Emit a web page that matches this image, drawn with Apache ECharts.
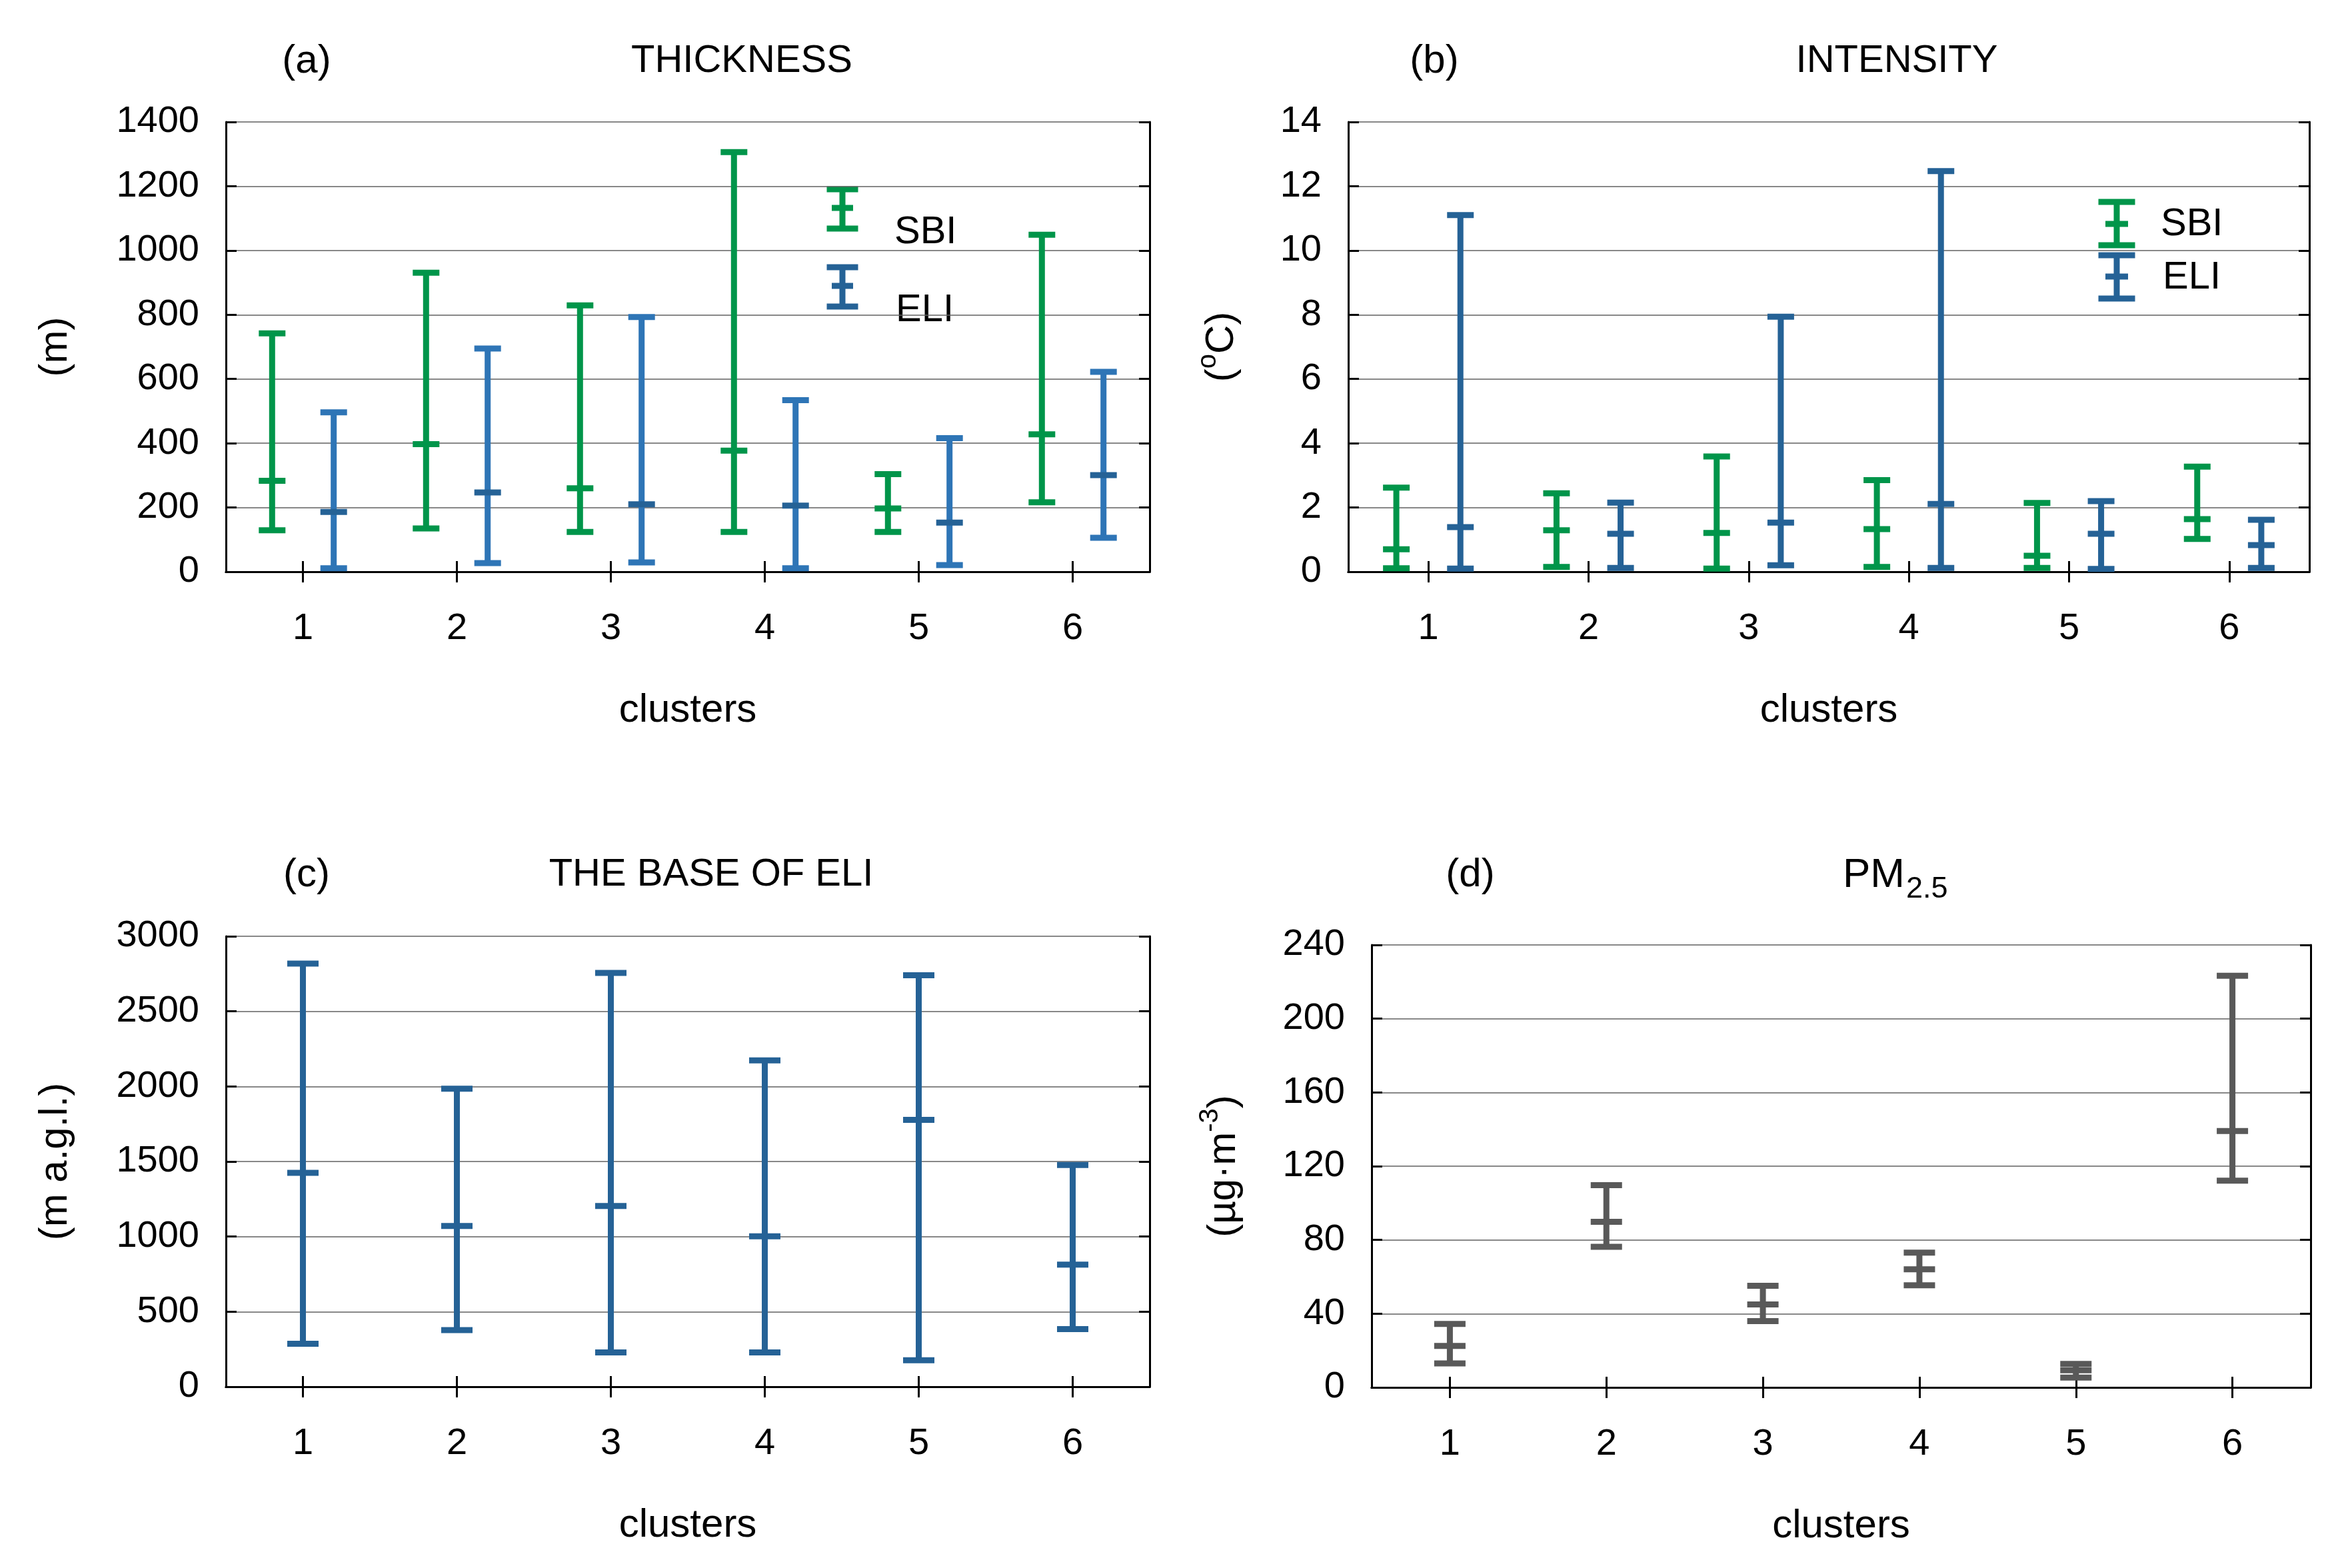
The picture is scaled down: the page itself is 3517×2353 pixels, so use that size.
<!DOCTYPE html>
<html>
<head>
<meta charset="utf-8">
<script src="https://cdn.jsdelivr.net/npm/echarts@6/dist/echarts.min.js"></script>
<style>
html,body{margin:0;padding:0;background:#fff;}
#chart{width:3517px;height:2353px;}
</style>
</head>
<body>
<div id="chart"></div>
<script>
// ---- data ----
const clusters = ['1', '2', '3', '4', '5', '6'];

const thickSBI_low  = [129, 135, 124, 124, 124, 216];
const thickSBI_mid  = [283, 397, 260, 377, 197, 428];
const thickSBI_high = [742, 931, 829, 1306, 304, 1049];
const thickELI_low  = [11, 27, 29, 11, 21, 106];
const thickELI_mid  = [186, 247, 210, 206, 153, 301];
const thickELI_high = [496, 695, 793, 534, 416, 622];

const intSBI_low  = [0.11, 0.15, 0.10, 0.15, 0.12, 1.02];
const intSBI_mid  = [0.70, 1.29, 1.21, 1.33, 0.50, 1.64];
const intSBI_high = [2.62, 2.44, 3.59, 2.85, 2.14, 3.27];
const intELI_low  = [0.10, 0.12, 0.20, 0.12, 0.09, 0.12];
const intELI_mid  = [1.39, 1.18, 1.53, 2.11, 1.18, 0.83];
const intELI_high = [11.1, 2.15, 7.94, 12.47, 2.20, 1.62];

const baseELI_low  = [286, 377, 228, 228, 176, 384];
const baseELI_mid  = [1425, 1071, 1204, 1002, 1777, 813];
const baseELI_high = [2818, 1985, 2756, 2174, 2740, 1477];

const pm_low  = [13.0, 76.3, 36.0, 55.4, 5.3, 112.1];
const pm_mid  = [22.5, 89.8, 45.0, 64.1, 9.3, 139.1];
const pm_high = [34.4, 109.7, 55.1, 73.1, 12.7, 223.3];

// ---- styling ----
const FONT = 'Liberation Sans';
const GREEN = '#00954a';
const BLUE_A = '#2e75b6';
const BLUE_D = '#256296';
const GREY = '#595959';
const LW = 9;

function rows(lo, mid, hi) {
  return lo.map((v, i) => [i, v, mid[i], hi[i]]);
}

function errRender(offsetFrac, capW, color, midColor) {
  return function (params, api) {
    const x = api.value(0);
    const lo = api.coord([x, api.value(1)]);
    const md = api.coord([x, api.value(2)]);
    const hi = api.coord([x, api.value(3)]);
    const band = api.size([1, 0])[0];
    const cx = lo[0] + offsetFrac * band;
    const hw = capW / 2;
    const st = { stroke: color, lineWidth: LW, lineCap: 'butt' };
    const stm = { stroke: midColor || color, lineWidth: LW, lineCap: 'butt' };
    return {
      type: 'group',
      children: [
        { type: 'line', shape: { x1: cx, y1: lo[1], x2: cx, y2: hi[1] }, style: st },
        { type: 'line', shape: { x1: cx - hw, y1: hi[1], x2: cx + hw, y2: hi[1] }, style: st },
        { type: 'line', shape: { x1: cx - hw, y1: lo[1], x2: cx + hw, y2: lo[1] }, style: st },
        { type: 'line', shape: { x1: cx - hw, y1: md[1], x2: cx + hw, y2: md[1] }, style: stm }
      ]
    };
  };
}

const grids = [
  { left: 339, top: 183, width: 1386, height: 675 },
  { left: 2023, top: 183, width: 1442, height: 675 },
  { left: 339, top: 1405, width: 1386, height: 676 },
  { left: 2058, top: 1418, width: 1409, height: 664 }
];

const tickStyle = { show: true, inside: true, length: 16, lineStyle: { color: '#000', width: 3 } };
const lineStyle = { show: true, lineStyle: { color: '#000', width: 3 } };

const xAxes = [], yAxes = [];
const yCfg = [
  { max: 1400, interval: 200, name: '(m)', gap: 226 },
  { max: 14, interval: 2, name: '{m|(}{s|o}{m|C)}', gap: 150 },
  { max: 3000, interval: 500, name: '(m a.g.l.)', gap: 226 },
  { max: 240, interval: 40, name: '{m|(µg·m}{s|-3}{m|)}', gap: 182 }
];
grids.forEach((g, i) => {
  xAxes.push({
    gridIndex: i, type: 'category', data: clusters, boundaryGap: true, position: 'bottom',
    axisLine: lineStyle, axisTick: Object.assign({ alignWithLabel: true }, tickStyle),
    axisLabel: { color: '#000', fontFamily: FONT, fontSize: 56, margin: 58 },
    splitLine: { show: false },
    name: 'clusters', nameLocation: 'middle', nameGap: 178,
    nameTextStyle: { color: '#000', fontFamily: FONT, fontSize: 60 }
  });
  xAxes.push({
    gridIndex: i, type: 'category', data: clusters, boundaryGap: true, position: 'top',
    axisLine: lineStyle, axisTick: Object.assign({ alignWithLabel: true }, tickStyle),
    axisLabel: { show: false }, splitLine: { show: false }
  });
  const c = yCfg[i];
  yAxes.push({
    gridIndex: i, type: 'value', min: 0, max: c.max, interval: c.interval, position: 'left',
    axisLine: lineStyle, axisTick: tickStyle,
    axisLabel: { color: '#000', fontFamily: FONT, fontSize: 56, margin: 40, formatter: (v) => String(v) },
    splitLine: { show: true, lineStyle: { color: '#606060', width: 1.5 } },
    name: c.name, nameLocation: 'middle', nameGap: c.gap, nameRotate: 90,
    nameTextStyle: {
      color: '#000', fontFamily: FONT, fontSize: 60,
      rich: {
        m: { color: '#000', fontFamily: FONT, fontSize: 60, lineHeight: 80 },
        s: { color: '#000', fontFamily: FONT, fontSize: 40, lineHeight: 44, verticalAlign: 'top' }
      }
    }
  });
  yAxes.push({
    gridIndex: i, type: 'value', min: 0, max: c.max, interval: c.interval, position: 'right',
    axisLine: lineStyle, axisTick: tickStyle,
    axisLabel: { show: false }, splitLine: { show: false }
  });
});

function errSeries(gi, data, offset, capW, color, midColor) {
  return {
    type: 'custom', xAxisIndex: gi * 2, yAxisIndex: gi * 2,
    data: data, encode: { x: 0, y: [1, 2, 3] },
    renderItem: errRender(offset, capW, color, midColor), z: 5, silent: true
  };
}

const series = [
  errSeries(0, rows(thickSBI_low, thickSBI_mid, thickSBI_high), -0.2, 40, GREEN),
  errSeries(0, rows(thickELI_low, thickELI_mid, thickELI_high), 0.2, 40, BLUE_A, BLUE_D),
  errSeries(1, rows(intSBI_low, intSBI_mid, intSBI_high), -0.2, 40, GREEN),
  errSeries(1, rows(intELI_low, intELI_mid, intELI_high), 0.2, 40, BLUE_D),
  errSeries(2, rows(baseELI_low, baseELI_mid, baseELI_high), 0, 47, BLUE_D),
  errSeries(3, rows(pm_low, pm_mid, pm_high), 0, 47, GREY)
];

function txt(x, y, text, size, align) {
  return {
    type: 'text', x: x, y: y, silent: true,
    style: {
      text: text, fill: '#000', font: size + 'px "' + FONT + '"',
      align: align || 'center', verticalAlign: 'middle',
      textAlign: align || 'center', textVerticalAlign: 'middle'
    }
  };
}
function glyph(cx, yTop, yMid, yBot, capW, midW, color) {
  const st = { stroke: color, lineWidth: LW };
  return [
    { type: 'line', silent: true, shape: { x1: cx, y1: yTop, x2: cx, y2: yBot }, style: st },
    { type: 'line', silent: true, shape: { x1: cx - capW / 2, y1: yTop, x2: cx + capW / 2, y2: yTop }, style: st },
    { type: 'line', silent: true, shape: { x1: cx - capW / 2, y1: yBot, x2: cx + capW / 2, y2: yBot }, style: st },
    { type: 'line', silent: true, shape: { x1: cx - midW / 2, y1: yMid, x2: cx + midW / 2, y2: yMid }, style: st }
  ];
}

const graphics = [
  txt(460, 92, '(a)', 60), txt(1113, 92, 'THICKNESS', 58),
  txt(2152, 92, '(b)', 60), txt(2846, 92, 'INTENSITY', 58),
  txt(460, 1313, '(c)', 60), txt(1067, 1313, 'THE BASE OF ELI', 58),
  txt(2206, 1313, '(d)', 60),
  txt(2765, 1314, 'PM', 62, 'left'),
  txt(2860, 1335, '2.5', 45, 'left'),
  // legend (a)
  ...glyph(1264, 284, 312, 343, 47, 32, GREEN),
  ...glyph(1264, 401, 429, 460, 47, 32, BLUE_D),
  txt(1342, 349, 'SBI', 58, 'left'),
  txt(1344, 466, 'ELI', 58, 'left'),
  // legend (b)
  ...glyph(3176, 303, 336, 368, 55, 34, GREEN),
  ...glyph(3176, 383, 415, 448, 55, 34, BLUE_D),
  txt(3242, 337, 'SBI', 58, 'left'),
  txt(3245, 417, 'ELI', 58, 'left')
];

const chart = echarts.init(document.getElementById('chart'), null, { renderer: 'canvas' });
chart.setOption({
  backgroundColor: '#ffffff',
  animation: false,
  grid: grids,
  xAxis: xAxes,
  yAxis: yAxes,
  series: series,
  graphic: graphics
});
</script>
</body>
</html>
